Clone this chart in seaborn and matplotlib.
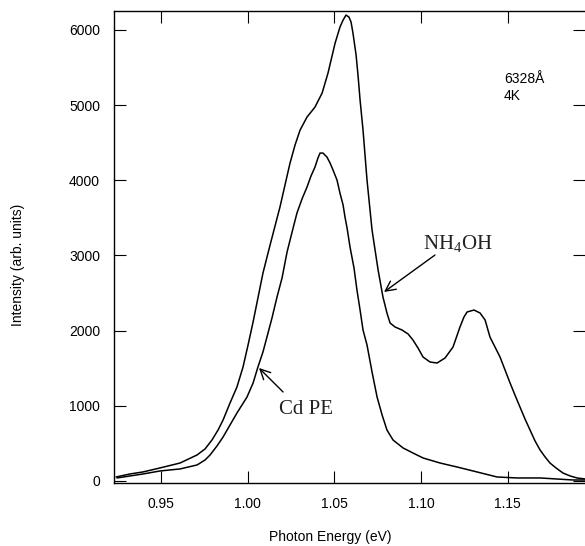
import numpy as np
import pandas as pd
import matplotlib
matplotlib.use("Agg")
import matplotlib.pyplot as plt
import seaborn as sns

# ---- data ----
nh4oh_energy = [0.9241, 0.9321, 0.9396, 0.9494, 0.9610, 0.9708, 0.9754, 0.9794, 0.9829,
                0.9858, 0.9898, 0.9938, 0.9973, 1.0002, 1.0031, 1.0059, 1.0088, 1.0129,
                1.0186, 1.0244, 1.0273, 1.0302, 1.0342, 1.0388, 1.0429, 1.0463, 1.0504,
                1.0532, 1.0550, 1.0567, 1.0584, 1.0596, 1.0607, 1.0625, 1.0636, 1.0648,
                1.0665, 1.0688, 1.0717, 1.0752, 1.0780, 1.0803, 1.0821, 1.0850, 1.0890,
                1.0925, 1.0953, 1.0982, 1.1011, 1.1051, 1.1092, 1.1138, 1.1184, 1.1224,
                1.1247, 1.1265, 1.1305, 1.1340, 1.1369, 1.1397, 1.1426, 1.1455, 1.1484,
                1.1513, 1.1541, 1.1570, 1.1599, 1.1628, 1.1657, 1.1686, 1.1715, 1.1743,
                1.1778, 1.1818, 1.1859, 1.1899, 1.1945]
nh4oh_intensity = [53, 93, 120, 173, 239, 346, 426, 545, 678,
                   811, 1037, 1250, 1516, 1809, 2115, 2434, 2766, 3139,
                   3644, 4229, 4469, 4668, 4841, 4974, 5160, 5426, 5825,
                   6038, 6131, 6198, 6171, 6105, 5958, 5666, 5400, 5067,
                   4668, 4003, 3338, 2806, 2447, 2234, 2101, 2048, 2008,
                   1955, 1875, 1769, 1649, 1583, 1569, 1636, 1782, 2048,
                   2181, 2248, 2274, 2234, 2141, 1915, 1782, 1649, 1476,
                   1303, 1144, 984, 825, 678, 532, 412, 319, 239,
                   173, 106, 67, 40, 27]

cdpe_energy = [0.9246, 0.9396, 0.9494, 0.9610, 0.9708, 0.9754, 0.9783, 0.9823, 0.9858,
               0.9898, 0.9938, 0.9996, 1.0031, 1.0059, 1.0088, 1.0111, 1.0140, 1.0169,
               1.0198, 1.0227, 1.0256, 1.0284, 1.0313, 1.0342, 1.0365, 1.0388, 1.0405,
               1.0417, 1.0434, 1.0457, 1.0475, 1.0492, 1.0515, 1.0532, 1.0550, 1.0561,
               1.0573, 1.0590, 1.0613, 1.0630, 1.0648, 1.0665, 1.0688, 1.0717, 1.0746,
               1.0775, 1.0803, 1.0838, 1.0896, 1.0953, 1.1011, 1.1109, 1.1207, 1.1322,
               1.1438, 1.1553, 1.1686, 1.1876, 1.1945]
cdpe_intensity = [40, 93, 133, 160, 213, 279, 346, 466, 585,
                  745, 904, 1117, 1303, 1516, 1716, 1915, 2168, 2447,
                  2700, 3046, 3312, 3564, 3751, 3910, 4057, 4176, 4296,
                  4362, 4362, 4309, 4229, 4136, 4003, 3830, 3671, 3511,
                  3365, 3112, 2833, 2540, 2274, 2008, 1809, 1450, 1117,
                  878, 678, 545, 439, 372, 306, 239, 186, 120,
                  53, 40, 40, 13, 13]

x_ticks = [0.95, 1.00, 1.05, 1.10, 1.15]
y_ticks = [0, 1000, 2000, 3000, 4000, 5000, 6000]

sns.set_theme(style="ticks")
plt.rcParams["font.family"] = ["Liberation Sans", "DejaVu Sans"]

df = pd.concat([
    pd.DataFrame({"energy": nh4oh_energy, "intensity": nh4oh_intensity, "sample": "NH4OH"}),
    pd.DataFrame({"energy": cdpe_energy, "intensity": cdpe_intensity, "sample": "Cd PE"}),
])

fig = plt.figure(figsize=(5.85, 5.46), dpi=100)
ax = fig.add_axes([114 / 585, 63 / 546, 471 / 585, 472 / 546])

sns.lineplot(data=df, x="energy", y="intensity", units="sample", estimator=None,
             sort=False, color="black", linewidth=1.1, ax=ax, legend=False)

ax.set_xlim(0.9229, 1.1945)
ax.set_ylim(-27, 6252)
ax.set_xticks(x_ticks)
ax.set_xticklabels([f"{v:.2f}" for v in x_ticks])
ax.set_yticks(y_ticks)
ax.set_yticklabels([str(v) for v in y_ticks])

ax.tick_params(axis="both", which="major", direction="in", length=8.5, width=0.8,
               labelsize=10, colors="black", pad=10,
               top=True, right=True, labeltop=False, labelright=False)
for side in ["left", "top", "bottom"]:
    ax.spines[side].set_linewidth(1.0)
    ax.spines[side].set_color("black")
ax.spines["right"].set_visible(False)

ax.set_xlabel("Photon Energy (eV)", fontsize=10, color="black")
ax.set_ylabel("Intensity (arb. units)", fontsize=10, color="black")
ax.xaxis.set_label_coords(0.459, -0.0996)
ax.yaxis.set_label_coords(-0.19, 0.462)

serif = ["Liberation Serif", "DejaVu Serif"]
ax.annotate("", xy=(1.0786, 2514), xytext=(1.1080, 3006),
            arrowprops=dict(arrowstyle="->", color="black", lw=1.0,
                            mutation_scale=18, shrinkA=0, shrinkB=0))
ax.text(1.1011, 3086, r"NH$_\mathregular{4}$OH", family=serif, fontsize=15,
        ha="left", va="baseline", color="#222222")

ax.annotate("", xy=(1.0065, 1503), xytext=(1.0204, 1184),
            arrowprops=dict(arrowstyle="->", color="black", lw=1.0,
                            mutation_scale=18, shrinkA=0, shrinkB=0))
ax.text(1.0181, 891, "Cd PE", family=serif, fontsize=15,
        ha="left", va="baseline", color="#222222")

ax.text(1.1478, 5293, "6328Å", fontsize=10, ha="left", va="baseline", color="black")
ax.text(1.1478, 5067, "4K", fontsize=10, ha="left", va="baseline", color="black")

fig.savefig("out.png", dpi=100)
